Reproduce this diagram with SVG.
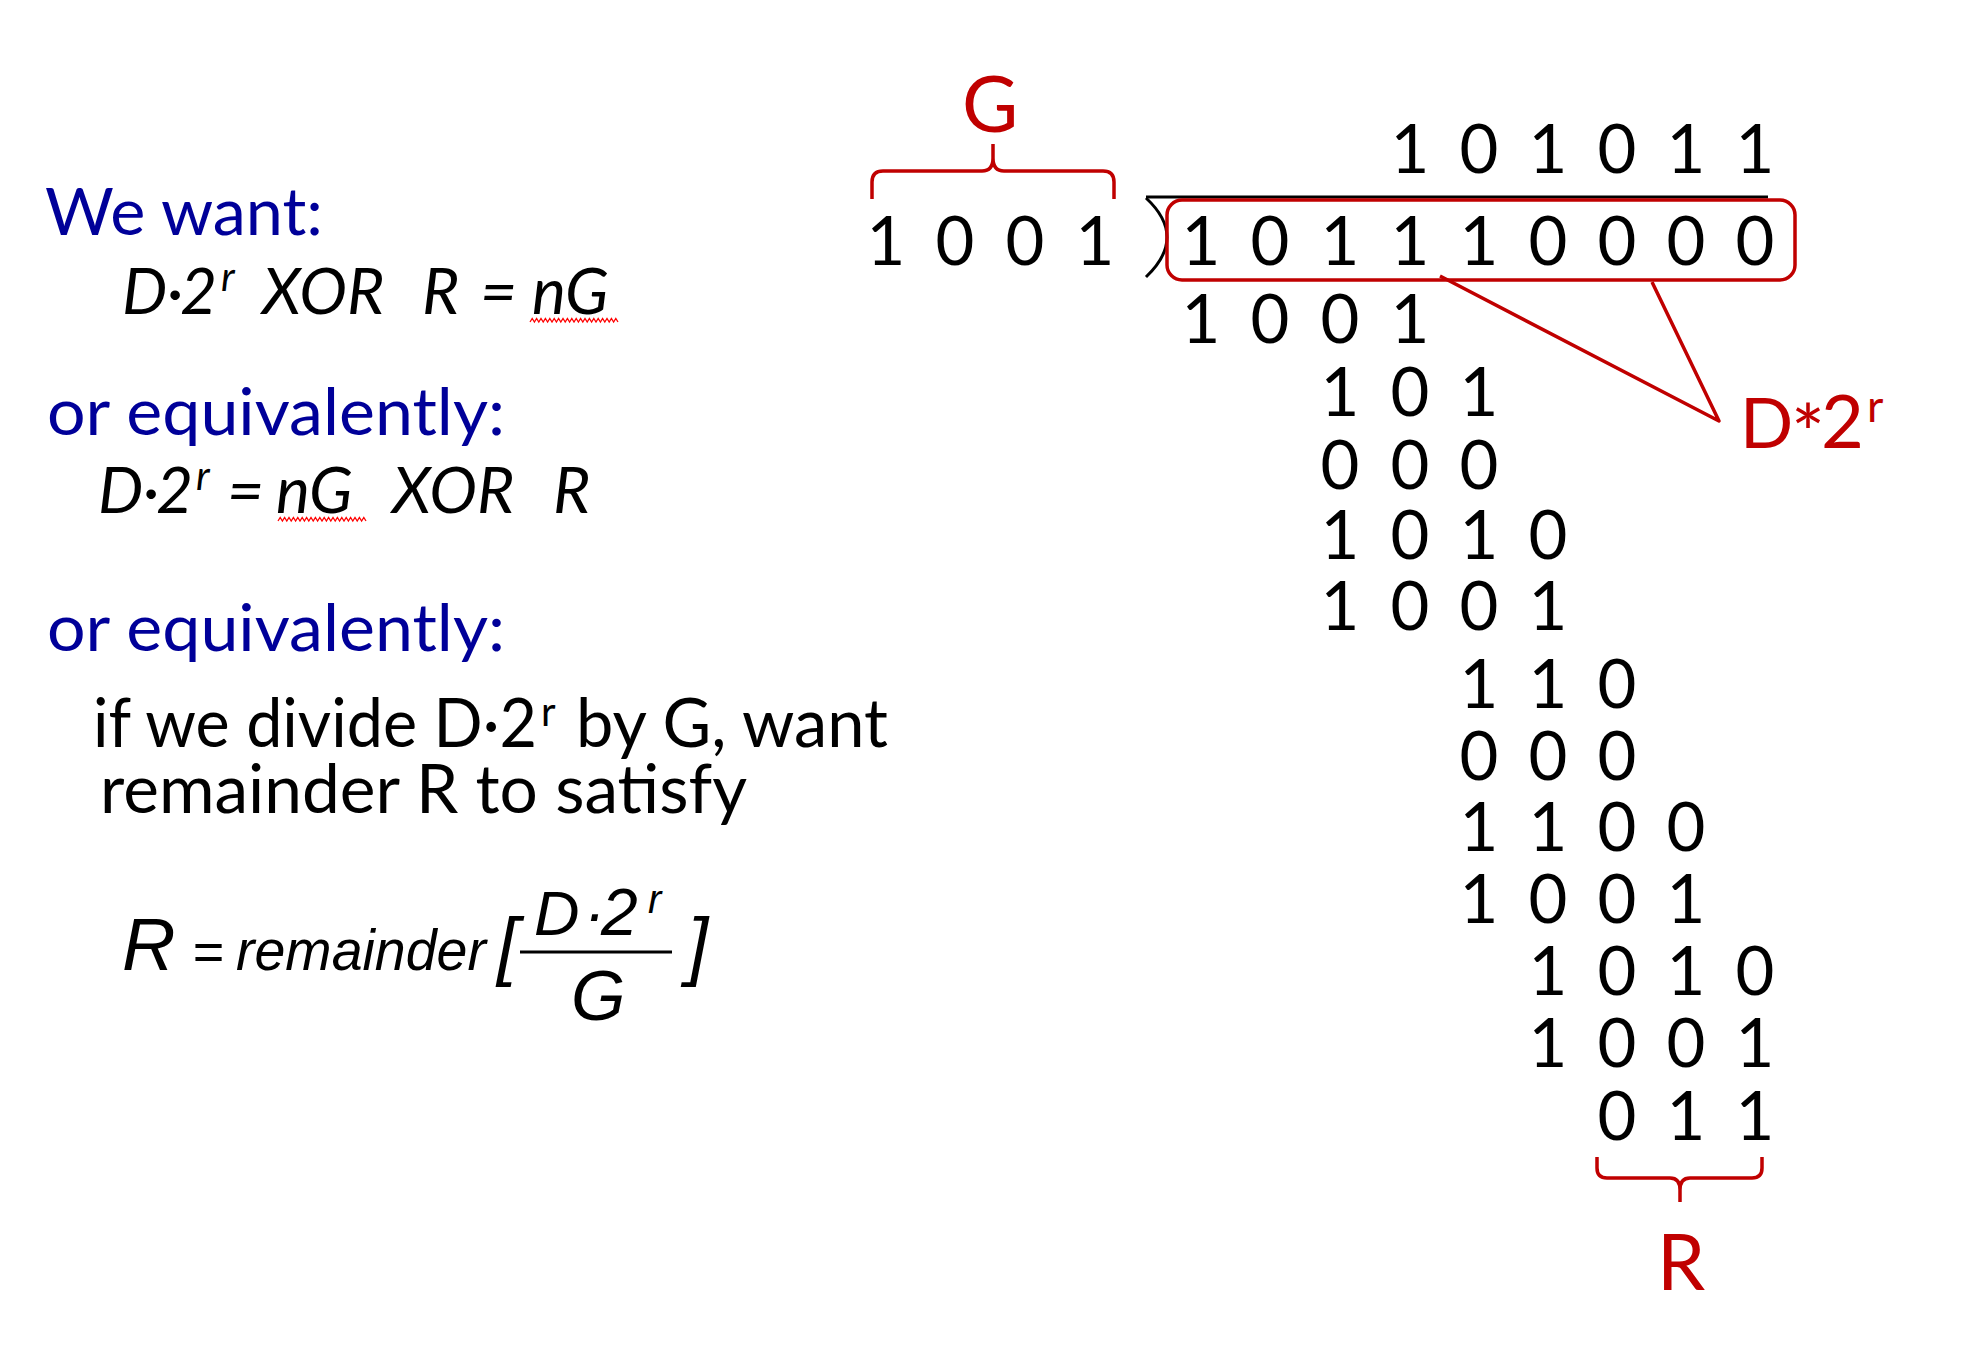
<svg xmlns="http://www.w3.org/2000/svg" width="1986" height="1350" viewBox="0 0 1986 1350">
<style>
.hd{font-family:Lato,"Open Sans","Liberation Sans",sans-serif;font-size:66px;fill:#000099}
.tx{font-family:Lato,"Open Sans","Liberation Sans",sans-serif;font-size:67px;fill:#000}
.it{font-family:Lato,"Open Sans","Liberation Sans",sans-serif;font-style:italic;font-size:64px;fill:#000}
.sup{font-size:40px}
.ar{font-family:"Liberation Sans",Arial,sans-serif;font-style:italic;fill:#000}
.dg{font-family:Lato,"Open Sans","Liberation Sans",sans-serif;font-size:67px;fill:#000;text-anchor:middle}
.rd{font-family:Lato,"Open Sans","Liberation Sans",sans-serif;fill:#c00000}
.rl{fill:none;stroke:#c00000;stroke-width:3.5;stroke-linejoin:round}
.bk{fill:none;stroke:#000;stroke-width:3}
.wv{fill:none;stroke:#ff0000;stroke-width:1.3}
</style>
<rect width="1986" height="1350" fill="#fff"/>

<g id="heading-want">
<text class="hd" x="45" y="235" textLength="278" lengthAdjust="spacingAndGlyphs">We want:</text>
</g>
<g id="formula-1">
<text class="it" y="314"><tspan x="122">D</tspan><tspan x="167">·</tspan><tspan x="180">2</tspan><tspan class="sup" x="221" y="291">r</tspan><tspan x="262" y="314">XOR</tspan><tspan x="422">R</tspan><tspan x="480">=</tspan><tspan x="532">nG</tspan></text>
<path class="wv" d="M530 322 l2.2 -3.5 l2.2 3.5 l2.2 -3.5 l2.2 3.5 l2.2 -3.5 l2.2 3.5 l2.2 -3.5 l2.2 3.5 l2.2 -3.5 l2.2 3.5 l2.2 -3.5 l2.2 3.5 l2.2 -3.5 l2.2 3.5 l2.2 -3.5 l2.2 3.5 l2.2 -3.5 l2.2 3.5 l2.2 -3.5 l2.2 3.5 l2.2 -3.5 l2.2 3.5 l2.2 -3.5 l2.2 3.5 l2.2 -3.5 l2.2 3.5 l2.2 -3.5 l2.2 3.5 l2.2 -3.5 l2.2 3.5 l2.2 -3.5 l2.2 3.5 l2.2 -3.5 l2.2 3.5 l2.2 -3.5 l2.2 3.5 l2.2 -3.5 l2.2 3.5 l2.2 -3.5 l2.2 3.5"/>
</g>
<g id="heading-equiv-1">
<text class="hd" x="47" y="435" textLength="458" lengthAdjust="spacingAndGlyphs">or equivalently:</text>
</g>
<g id="formula-2">
<text class="it" y="513"><tspan x="98">D</tspan><tspan x="143">·</tspan><tspan x="156">2</tspan><tspan class="sup" x="196" y="490">r</tspan><tspan x="227" y="513">=</tspan><tspan x="276">nG</tspan><tspan x="392">XOR</tspan><tspan x="553">R</tspan></text>
<path class="wv" d="M278 521 l2.2 -3.5 l2.2 3.5 l2.2 -3.5 l2.2 3.5 l2.2 -3.5 l2.2 3.5 l2.2 -3.5 l2.2 3.5 l2.2 -3.5 l2.2 3.5 l2.2 -3.5 l2.2 3.5 l2.2 -3.5 l2.2 3.5 l2.2 -3.5 l2.2 3.5 l2.2 -3.5 l2.2 3.5 l2.2 -3.5 l2.2 3.5 l2.2 -3.5 l2.2 3.5 l2.2 -3.5 l2.2 3.5 l2.2 -3.5 l2.2 3.5 l2.2 -3.5 l2.2 3.5 l2.2 -3.5 l2.2 3.5 l2.2 -3.5 l2.2 3.5 l2.2 -3.5 l2.2 3.5 l2.2 -3.5 l2.2 3.5 l2.2 -3.5 l2.2 3.5 l2.2 -3.5 l2.2 3.5"/>
</g>
<g id="heading-equiv-2">
<text class="hd" x="47" y="651" textLength="458" lengthAdjust="spacingAndGlyphs">or equivalently:</text>
</g>
<g id="sentence">
<text class="tx" y="747"><tspan x="93" textLength="444" lengthAdjust="spacingAndGlyphs">if we divide D·2</tspan><tspan class="sup" x="541" y="726">r</tspan><tspan x="576" y="747" textLength="312" lengthAdjust="spacingAndGlyphs">by G, want</tspan></text>
<text class="tx" x="100" y="813" textLength="647" lengthAdjust="spacingAndGlyphs">remainder R to satisfy</text>
</g>
<g id="formula-3">
<text class="ar" x="122" y="970" font-size="74">R</text>
<text class="ar" x="192" y="970" font-size="54" font-style="normal">=</text>
<text class="ar" x="236" y="970" font-size="58" textLength="250" lengthAdjust="spacingAndGlyphs">remainder</text>
<text class="ar" x="497" y="971" font-size="76">[</text>
<text class="ar" y="935" font-size="63"><tspan x="534">D</tspan><tspan x="584">·</tspan><tspan x="601" font-size="66">2</tspan><tspan x="648" y="913" font-size="40">r</tspan></text>
<line x1="520" y1="952" x2="672" y2="952" stroke="#000" stroke-width="3"/>
<text class="ar" x="571" y="1020" font-size="70">G</text>
<text class="ar" x="687" y="971" font-size="76">]</text>
</g>

<g id="label-G">
<text class="rd" x="990" y="132" font-size="77" text-anchor="middle">G</text>
</g>
<g id="divisor">
<text class="dg" y="265" x="886 920.5 955 990 1025 1060 1095">1 0 0 1</text>
</g>
<g id="quotient">
<text class="dg" y="173" x="1410 1444.5 1479 1513.5 1548 1582.5 1617 1651.5 1686 1720.5 1755">1 0 1 0 1 1</text>
</g>
<g id="dividend">
<text class="dg" y="265" x="1201 1235.5 1270 1305 1340 1375 1410 1444.5 1479 1513.5 1548 1582.5 1617 1651.5 1686 1720.5 1755">1 0 1 1 1 0 0 0 0</text>
</g>
<g id="steps">
<text class="dg" y="343" x="1201 1235.5 1270 1305 1340 1375 1410">1 0 0 1</text>
<text class="dg" y="416" x="1340 1375 1410 1444.5 1479">1 0 1</text>
<text class="dg" y="489" x="1340 1375 1410 1444.5 1479">0 0 0</text>
<text class="dg" y="559" x="1340 1375 1410 1444.5 1479 1513.5 1548">1 0 1 0</text>
<text class="dg" y="630" x="1340 1375 1410 1444.5 1479 1513.5 1548">1 0 0 1</text>
<text class="dg" y="708" x="1479 1513.5 1548 1582.5 1617">1 1 0</text>
<text class="dg" y="780" x="1479 1513.5 1548 1582.5 1617">0 0 0</text>
<text class="dg" y="851" x="1479 1513.5 1548 1582.5 1617 1651.5 1686">1 1 0 0</text>
<text class="dg" y="923" x="1479 1513.5 1548 1582.5 1617 1651.5 1686">1 0 0 1</text>
<text class="dg" y="995" x="1548 1582.5 1617 1651.5 1686 1720.5 1755">1 0 1 0</text>
<text class="dg" y="1067" x="1548 1582.5 1617 1651.5 1686 1720.5 1755">1 0 0 1</text>
<text class="dg" y="1140" x="1617 1651.5 1686 1720.5 1755">0 1 1</text>
</g>
<g id="label-D2r">
<text class="rd" y="448"><tspan x="1740" font-size="70">D</tspan><tspan x="1791" y="462" font-size="80">*</tspan><tspan x="1821" y="448" font-size="74">2</tspan><tspan x="1867" y="422" font-size="45">r</tspan></text>
</g>
<g id="label-R">
<text class="rd" x="1681" y="1290" font-size="77" text-anchor="middle">R</text>
</g>

<g id="connectors">
<path class="bk" d="M1146 197 L1768 197"/>
<path class="bk" d="M1146 198 Q1188 237 1146 277"/>
<rect class="rl" x="1167" y="200" width="628" height="80" rx="15"/>
<path class="rl" d="M1440 276 L1719 421 L1652 282"/>
<path class="rl" d="M872 199 L872 182 Q872 171 883 171 L982 171 Q993 171 993 158 L993 144 M993 158 Q993 171 1004 171 L1103 171 Q1114 171 1114 182 L1114 199"/>
<path class="rl" d="M1597 1157 L1597 1168 Q1597 1178 1607 1178 L1670 1178 Q1680 1178 1680 1190 L1680 1202 M1680 1190 Q1680 1178 1690 1178 L1752 1178 Q1762 1178 1762 1168 L1762 1157"/>
</g>
</svg>
